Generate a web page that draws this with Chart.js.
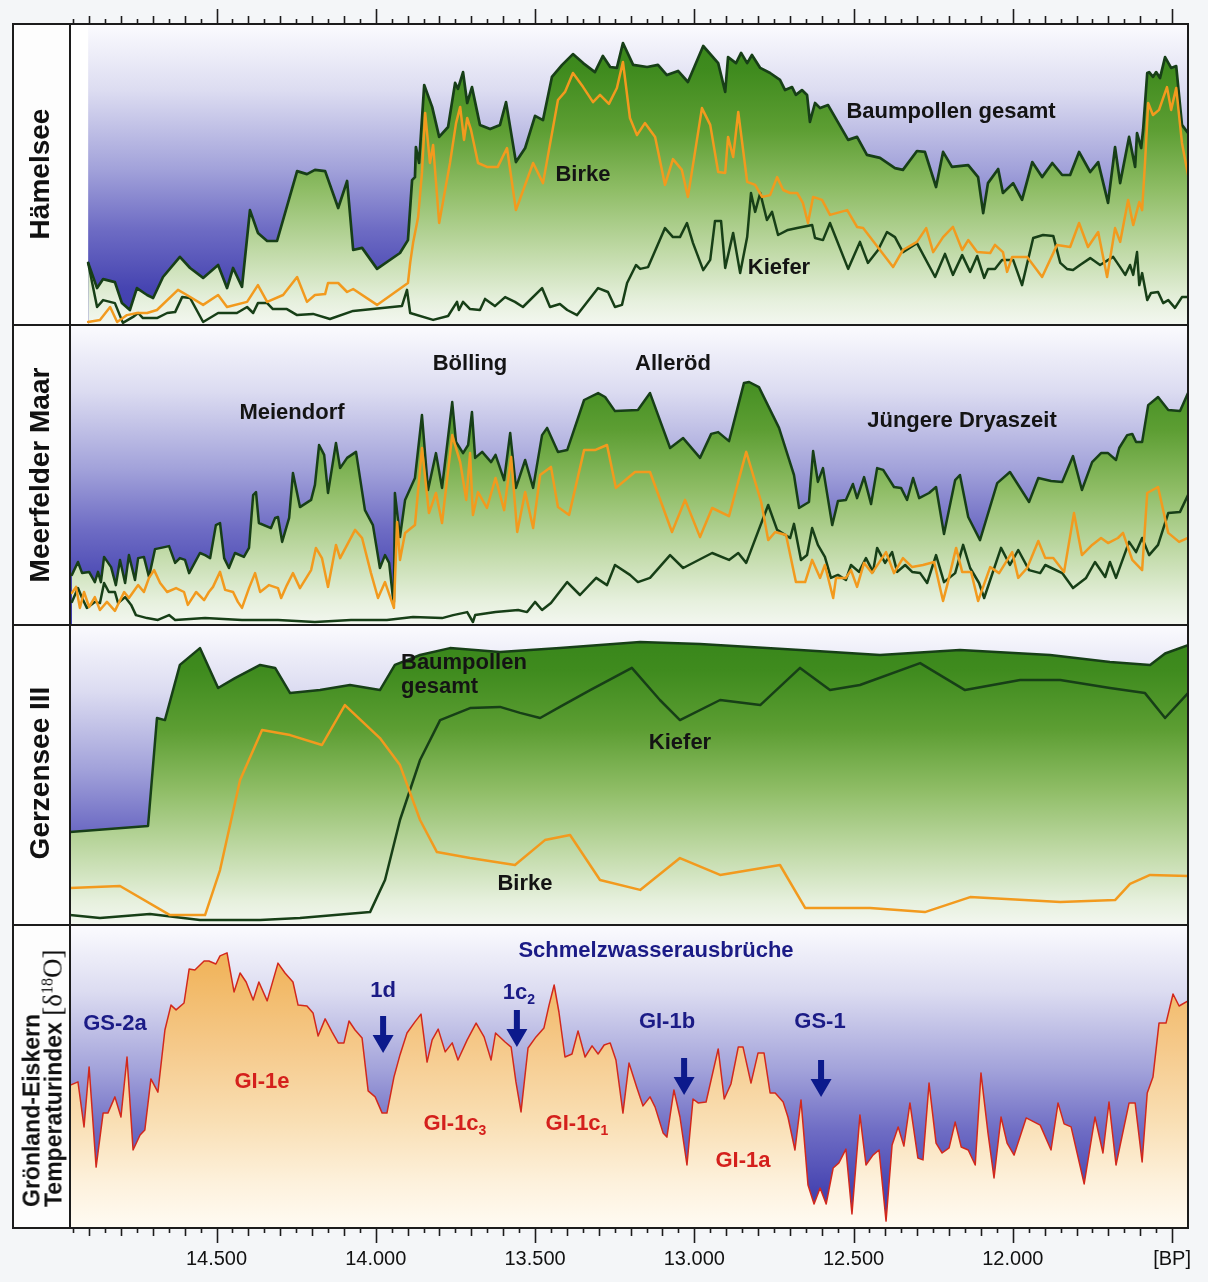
<!DOCTYPE html>
<html><head><meta charset="utf-8">
<script src="https://cdn.jsdelivr.net/npm/chart.js@4.4.1/dist/chart.umd.min.js"></script>
<style>
html,body{margin:0;padding:0;background:#f4f6f8;}
#wrap{position:relative;width:1208px;height:1282px;overflow:hidden;font-family:"Liberation Sans",Arial,Helvetica,sans-serif;}
canvas{position:absolute;left:0;}
.ln{position:absolute;background:#1c1c1c;z-index:5;}
.t{position:absolute;font-weight:bold;white-space:nowrap;transform:translate(-50%,-50%);z-index:6;line-height:1;}
.tl{position:absolute;font-weight:bold;white-space:nowrap;transform:translate(0,-50%);z-index:6;line-height:1;}
.side{position:absolute;font-weight:bold;white-space:nowrap;font-size:28px;color:#111;transform:translate(-50%,-50%) rotate(-90deg);z-index:6;line-height:1;}
.side2{position:absolute;font-weight:bold;white-space:nowrap;font-size:23px;color:#111;width:270px;line-height:21px;text-align:left;transform:translate(-50%,-50%) rotate(-90deg);z-index:6;}
.ser{font-family:"Liberation Serif","Times New Roman",serif;font-weight:normal;font-size:27px;}
.ser sup{font-size:16px;vertical-align:9px;line-height:0;}
.blk{color:#141414;font-size:22px;}
.blu{color:#1b1b86;font-size:22px;}
.red{color:#d4201c;font-size:22px;}
sub{font-size:14px;vertical-align:-5px;line-height:0;}
</style></head>
<body>
<div id="wrap">
  <div style="position:absolute;left:13px;top:24px;width:57px;height:1204px;background:#fdfdfd;"></div>
  <canvas id="c1" width="1208" height="325" style="top:0px"></canvas>
  <canvas id="c2" width="1208" height="300" style="top:325px"></canvas>
  <canvas id="c3" width="1208" height="300" style="top:625px"></canvas>
  <canvas id="c4" width="1208" height="357" style="top:925px"></canvas>

  <div class="ln" style="left:12px;top:23px;width:1177px;height:2px"></div>
  <div class="ln" style="left:12px;top:1227px;width:1177px;height:2px"></div>
  <div class="ln" style="left:12px;top:23px;width:2px;height:1206px"></div>
  <div class="ln" style="left:1187px;top:23px;width:2px;height:1206px"></div>
  <div class="ln" style="left:69px;top:23px;width:2px;height:1206px"></div>
  <div class="ln" style="left:12px;top:324px;width:1177px;height:2px"></div>
  <div class="ln" style="left:12px;top:624px;width:1177px;height:2px"></div>
  <div class="ln" style="left:12px;top:924px;width:1177px;height:2px"></div>

  <div class="side" style="left:40px;top:174px">Hämelsee</div>
  <div class="side" style="left:40px;top:475px">Meerfelder Maar</div>
  <div class="side" style="left:40px;top:773px">Gerzensee III</div>
  <div class="side2" style="left:43px;top:1072px">Grönland-Eiskern<br>Temperaturindex <span class="ser">[δ<sup>18</sup>O]</span></div>

  <div class="t blk" style="left:951px;top:111px">Baumpollen gesamt</div>
  <div class="t blk" style="left:583px;top:174px">Birke</div>
  <div class="t blk" style="left:779px;top:267px">Kiefer</div>

  <div class="t blk" style="left:292px;top:412px">Meiendorf</div>
  <div class="t blk" style="left:470px;top:363px">Bölling</div>
  <div class="t blk" style="left:673px;top:363px">Alleröd</div>
  <div class="t blk" style="left:962px;top:420px">Jüngere Dryaszeit</div>

  <div class="tl blk" style="left:401px;top:662px">Baumpollen</div>
  <div class="tl blk" style="left:401px;top:686px">gesamt</div>
  <div class="t blk" style="left:680px;top:742px">Kiefer</div>
  <div class="t blk" style="left:525px;top:883px">Birke</div>

  <div class="t blu" style="left:656px;top:950px">Schmelzwasserausbrüche</div>
  <div class="t blu" style="left:115px;top:1023px">GS-2a</div>
  <div class="t blu" style="left:383px;top:990px">1d</div>
  <div class="t blu" style="left:519px;top:992px">1c<sub>2</sub></div>
  <div class="t blu" style="left:667px;top:1021px">GI-1b</div>
  <div class="t blu" style="left:820px;top:1021px">GS-1</div>
  <div class="t red" style="left:262px;top:1081px">GI-1e</div>
  <div class="t red" style="left:455px;top:1123px">GI-1c<sub>3</sub></div>
  <div class="t red" style="left:577px;top:1123px">GI-1c<sub>1</sub></div>
  <div class="t red" style="left:743px;top:1160px">GI-1a</div>
</div>
<script>
// ---------- axis ----------
const X_MIN = 11450, X_MAX = 14960;
const majorYears  = [14500, 14000, 13500, 13000, 12500, 12000, 11500];
const majorLabels = ['14.500', '14.000', '13.500', '13.000', '12.500', '12.000', '[BP]'];

// ---------- Hämelsee (year BP, %) ----------
const haemGesamt = [[14903,20.7],[14875,12.3],[14856,15.3],[14819,14.3],[14797,7.3],[14772,5],[14750,12.3],[14718,10],[14699,9],[14668,16],[14615,22.7],[14583,19],[14542,15.7],[14495,20],[14467,12.3],[14448,19],[14420,12.7],[14395,38.3],[14370,30.7],[14341,28],[14310,28],[14247,51.3],[14216,50.3],[14191,51.7],[14159,51.3],[14118,39],[14090,48],[14071,25],[14043,25.7],[13996,18.7],[13924,24],[13899,28.3],[13886,48.3],[13877,49.3],[13874,59.3],[13864,54],[13848,80],[13823,72.7],[13801,62.7],[13773,66],[13751,80.7],[13742,78.7],[13726,84.3],[13713,74],[13698,79.3],[13673,66.7],[13641,65.3],[13610,66.7],[13591,74.3],[13560,54.3],[13531,59],[13500,69.7],[13475,68.3],[13447,82.7],[13415,86.7],[13381,90.3],[13349,87.3],[13312,84.3],[13287,89.7],[13264,86],[13243,85.7],[13224,94],[13192,86.7],[13148,86],[13114,86.7],[13086,83.3],[13051,84.7],[13020,81],[12972,93],[12925,87.3],[12903,77.7],[12894,89.3],[12869,87.3],[12853,90.7],[12834,87.3],[12819,90],[12793,85.7],[12762,84],[12731,81.7],[12715,78.3],[12693,79.3],[12681,76.7],[12662,78.3],[12646,76.7],[12637,67.7],[12621,74],[12605,72.3],[12580,73.3],[12517,61.7],[12489,62.7],[12458,56.7],[12417,55.7],[12370,52.3],[12345,51.7],[12301,58],[12276,57.7],[12241,46],[12219,57.7],[12191,52.7],[12140,53.3],[12109,49.3],[12093,37.3],[12078,47.3],[12046,52],[12031,44],[11999,47.3],[11971,41.7],[11939,54.3],[11908,49.3],[11876,54],[11845,50],[11820,50],[11792,57.7],[11757,51],[11732,54.3],[11701,40.7],[11679,59.3],[11663,47.3],[11635,62.7],[11616,52.7],[11610,64],[11597,59],[11591,65],[11578,84],[11572,84.3],[11560,82.7],[11550,84.3],[11538,82.3],[11522,89.3],[11503,85.7],[11487,86.3],[11469,66.7],[11450,64]];
const haemBirke = [[14903,1],[14866,1.7],[14834,6],[14812,1],[14781,3.3],[14750,4],[14718,4],[14687,5],[14621,11.7],[14593,10],[14542,6.7],[14495,10],[14467,6],[14404,7.7],[14370,13.3],[14341,7.7],[14291,10],[14247,16],[14216,7.7],[14191,10],[14159,10.3],[14150,14],[14118,14],[14090,11],[14071,12],[13996,6.7],[13899,14],[13892,20.7],[13883,27.3],[13867,36],[13855,50.7],[13845,70.7],[13836,60.7],[13830,54],[13820,60],[13801,34],[13767,54],[13748,67.3],[13735,72.7],[13723,61.7],[13713,69],[13701,65],[13679,54],[13651,52.7],[13617,52.7],[13588,59],[13560,38.3],[13506,54],[13475,47.3],[13428,75],[13406,77.7],[13381,84],[13349,79.3],[13318,74.3],[13296,76.7],[13268,73.7],[13243,79],[13224,87.7],[13202,69],[13180,63.3],[13155,67.3],[13123,62.7],[13092,46.7],[13067,55.3],[13039,51.7],[13020,42.7],[12976,72.3],[12950,66.7],[12925,51],[12903,50.7],[12894,62.7],[12878,56],[12862,71],[12834,47.7],[12809,46.7],[12787,42.7],[12762,43.3],[12740,49.3],[12721,45],[12699,44],[12677,44],[12659,40.7],[12643,34],[12627,42.7],[12599,41.7],[12574,36.7],[12520,38.3],[12489,32.7],[12470,32.3],[12417,25],[12376,19.3],[12345,25],[12301,27.7],[12272,32.3],[12250,24.3],[12219,29.3],[12188,32.7],[12159,25],[12140,28.3],[12112,24.3],[12071,24],[12056,26.7],[12031,24.3],[12018,17.7],[12002,22.7],[11955,22.7],[11908,16],[11861,26.7],[11820,26],[11792,34],[11764,26],[11732,31],[11704,16],[11679,32.3],[11663,27.7],[11638,41.7],[11622,33.3],[11603,41],[11594,38.3],[11585,54],[11575,74],[11560,70],[11541,71.7],[11516,79.3],[11503,71.7],[11487,79],[11469,60.7],[11450,50]];
const haemKiefer = [[14903,20.7],[14875,6],[14856,8.3],[14819,7.3],[14794,0.7],[14762,2.7],[14746,4],[14731,2.3],[14687,2.3],[14655,4],[14630,4.3],[14608,9.3],[14583,9],[14542,1],[14495,4],[14436,4],[14404,6],[14385,4],[14370,7.3],[14341,7.3],[14323,5.3],[14279,5.3],[14247,3.3],[14197,3.7],[14144,2],[14071,4.7],[13918,6.3],[13902,11.7],[13892,4],[13820,1.7],[13773,3],[13745,7.7],[13739,5],[13726,7.7],[13704,5.3],[13673,5],[13657,8.7],[13626,6.3],[13594,9.3],[13563,7.7],[13538,6],[13478,12.3],[13453,6],[13422,7],[13399,5],[13368,3.3],[13302,12.3],[13271,11],[13249,6],[13227,6.7],[13211,14],[13183,20],[13170,18.7],[13145,19.3],[13092,32.3],[13067,29.3],[13045,29.3],[13023,34],[13004,27.3],[12972,18.3],[12950,21.7],[12935,34.7],[12916,34.7],[12903,19],[12878,30.7],[12856,17.3],[12834,29.3],[12822,44],[12809,37.7],[12793,44],[12772,35],[12756,37.7],[12737,30],[12706,31.7],[12677,32.3],[12630,33.3],[12621,29],[12596,28.3],[12574,34],[12517,18.7],[12480,27.7],[12455,20.7],[12423,25],[12395,31],[12370,29.3],[12345,24.3],[12301,27.3],[12244,16],[12213,23.7],[12188,16.7],[12159,23.3],[12134,17.7],[12112,23],[12090,15.7],[12078,18.7],[12056,18.7],[12034,21.7],[11999,21.7],[11971,13.3],[11936,29],[11905,30],[11873,29.7],[11851,20.7],[11830,18.7],[11811,18.3],[11789,20],[11757,22.3],[11726,20],[11685,22.7],[11663,19.3],[11647,16.7],[11632,20],[11622,16.7],[11610,24.3],[11603,13.3],[11594,17.3],[11578,8.3],[11566,10.7],[11544,11],[11528,7.3],[11512,8.3],[11491,5.7],[11469,9.3],[11450,9.3]];

// ---------- Meerfelder Maar ----------
const meerGesamt = [[14954,16.7],[14935,21],[14922,17.3],[14900,17.7],[14882,14.3],[14872,17.7],[14863,14.3],[14853,22.7],[14831,19.3],[14816,13.3],[14803,21.7],[14787,14],[14775,23.3],[14756,15],[14746,22.3],[14728,22.7],[14712,16],[14693,25.3],[14649,26.3],[14630,20.7],[14615,22.3],[14599,21.7],[14586,17.3],[14552,24],[14536,23.3],[14520,22.3],[14502,33.3],[14489,34],[14476,22.3],[14461,19],[14442,24],[14414,22.7],[14398,25.7],[14385,43.3],[14376,44.3],[14367,34],[14329,32.3],[14316,35.7],[14307,36],[14294,27.7],[14272,35.7],[14260,50.7],[14238,39.3],[14203,41.7],[14191,46.7],[14178,60],[14162,56.7],[14150,44],[14125,60.7],[14112,52.3],[14090,55.7],[14062,57.7],[14034,38.3],[14009,33.3],[13987,19],[13971,23.3],[13958,20.7],[13946,9],[13943,7.7],[13940,44],[13924,29.3],[13908,41.7],[13877,49],[13855,70],[13836,45],[13811,57.3],[13792,45.7],[13760,74.3],[13748,61],[13726,57.3],[13710,60],[13698,71],[13688,55.7],[13666,57.7],[13638,54.3],[13624,56.7],[13597,48.3],[13578,64],[13560,45.7],[13531,55],[13506,45.7],[13478,63.3],[13462,65.7],[13428,57.7],[13399,58.3],[13346,75],[13302,77.3],[13280,76],[13249,71.3],[13177,71.7],[13139,77.3],[13076,59],[13035,62.3],[12982,55.7],[12947,63.7],[12925,64.3],[12891,61.3],[12844,80.7],[12828,81],[12797,79.3],[12734,65.7],[12687,50],[12671,39],[12640,41],[12627,58],[12612,47.7],[12596,52.3],[12567,33.3],[12549,41.3],[12524,41.7],[12502,47],[12489,42.3],[12467,49.3],[12445,40.3],[12426,52.3],[12407,51.7],[12373,46],[12351,45.7],[12332,41.7],[12313,49],[12294,42.3],[12263,44],[12241,46],[12216,30.3],[12181,48.3],[12166,50],[12140,36],[12103,28.3],[12049,47.3],[12009,51],[11949,41],[11920,49],[11880,48],[11845,47.7],[11811,56.3],[11783,45],[11751,54.3],[11723,57.3],[11701,57.3],[11676,55],[11666,59],[11641,63.3],[11625,63.7],[11613,61],[11594,61],[11575,73.3],[11544,76],[11512,71.7],[11475,71.3],[11450,77.3]];
const meerBirke = [[14954,10.7],[14941,12.7],[14929,5.7],[14916,11],[14900,6],[14882,9.3],[14866,5],[14844,7.7],[14819,4.7],[14790,11],[14775,9],[14746,13.3],[14728,11],[14712,15.7],[14696,18.3],[14677,14],[14655,11],[14627,12.3],[14602,11],[14590,6.7],[14564,11],[14539,8.3],[14524,11],[14511,12.7],[14489,17.7],[14473,11.7],[14448,11],[14433,7.7],[14420,5.7],[14398,12.3],[14379,17.3],[14363,11],[14335,13.3],[14307,12.3],[14297,9],[14279,13.3],[14260,17.3],[14238,12.3],[14203,18.3],[14188,25.7],[14169,22.3],[14150,12.7],[14125,26.7],[14112,22.3],[14065,31.7],[14043,29],[14015,17.3],[13993,9],[13971,14.3],[13943,5.7],[13933,34.3],[13924,21.7],[13908,30.7],[13877,33.3],[13855,59],[13833,37.3],[13811,44],[13792,34],[13760,63.3],[13735,54.3],[13716,41.7],[13704,57.3],[13695,36.7],[13679,44.3],[13651,39],[13624,49],[13597,38.3],[13575,56],[13556,31],[13531,44.3],[13506,32.3],[13484,50],[13450,52.7],[13428,39.3],[13393,36.7],[13346,58.3],[13312,58.3],[13274,60],[13246,45.7],[13186,51],[13139,51],[13070,31],[13029,41.7],[12982,29.3],[12944,39],[12891,36.3],[12837,57.7],[12790,41],[12768,28.3],[12746,31],[12712,30],[12681,14.3],[12652,14.3],[12630,21.7],[12605,15.7],[12590,20],[12564,9],[12555,15.7],[12524,15.7],[12508,18.3],[12489,12.7],[12467,20.7],[12442,17.3],[12398,24.3],[12373,17.3],[12345,22.3],[12316,19.3],[12282,20],[12247,21],[12219,8],[12206,13.3],[12178,25.7],[12159,17.7],[12131,17.7],[12109,8],[12071,19.3],[12043,17.3],[12002,24.3],[11983,15.7],[11955,19],[11920,28],[11898,22.3],[11873,22.3],[11839,17.7],[11808,37.3],[11783,23.3],[11751,26.7],[11723,29],[11701,27.3],[11670,29],[11654,30.7],[11625,21.7],[11594,18.3],[11578,44],[11544,46],[11512,30.7],[11478,27.7],[11450,29]];
const meerKiefer = [[14954,7.7],[14935,12.3],[14922,9],[14907,5.7],[14882,7.7],[14866,7.3],[14853,14],[14838,11],[14819,11],[14809,7.3],[14787,9.3],[14768,6.7],[14753,3.3],[14718,2.3],[14684,1.7],[14649,3.3],[14630,1.7],[14536,2.3],[14420,1.7],[14307,1.7],[14191,1],[14078,1.7],[13965,1.7],[13883,2.7],[13792,2.3],[13757,3.3],[13713,4.3],[13695,1],[13688,3.3],[13624,4.3],[13553,5],[13525,4.3],[13500,7.7],[13478,5],[13450,7.3],[13399,14.3],[13359,10],[13308,15.7],[13274,13.3],[13249,20],[13202,16.7],[13177,14.3],[13139,15.7],[13076,23.3],[13035,19],[12944,24],[12891,21.7],[12862,24],[12837,20.7],[12768,40],[12740,31.7],[12699,29],[12687,33.7],[12665,21.7],[12646,23.3],[12630,32.3],[12612,26.7],[12590,22.7],[12571,15.7],[12549,16.7],[12524,15],[12508,20],[12483,17.7],[12461,22.3],[12439,17.7],[12426,25.7],[12401,20.7],[12379,24.3],[12363,17.7],[12338,20],[12316,17.7],[12291,17.3],[12269,14],[12241,23.3],[12216,14.3],[12181,17.3],[12156,26.7],[12134,19],[12106,14],[12090,9],[12037,25.7],[12009,20],[11983,25],[11949,18.3],[11914,17.3],[11898,20],[11845,17.3],[11811,12.3],[11770,15.7],[11742,21],[11710,16],[11695,21],[11676,15.7],[11635,27.7],[11613,24.3],[11594,29],[11572,23.3],[11544,26.7],[11512,37.3],[11475,37.7],[11450,43.3]];

// ---------- Gerzensee III ----------
const gerzGesamt = [[14960,31],[14715,33],[14687,69],[14662,68.3],[14615,86.7],[14552,92.3],[14495,79],[14442,82.3],[14363,86.7],[14316,85.7],[14269,77.3],[14175,78.3],[14081,80],[13987,78.3],[13940,86.7],[13861,90],[13767,92.3],[13610,91],[13422,92.3],[13170,94.3],[12982,93.7],[12668,91.7],[12417,90],[12166,91.7],[11883,90],[11695,87.7],[11569,86.7],[11522,90.5],[11450,93.3]];
const gerzBirke = [[14960,12.3],[14803,13],[14646,3.3],[14536,3.3],[14489,18.3],[14426,48.3],[14357,65],[14269,63.3],[14169,60],[14097,73.3],[13987,62.3],[13924,53.3],[13861,35],[13808,24.3],[13704,22.3],[13563,20],[13469,28.3],[13390,30],[13296,15],[13170,11.7],[13045,22.3],[12919,16.7],[12731,20],[12652,5.7],[12448,5.7],[12276,4.3],[12134,9.3],[11851,7.7],[11679,8.3],[11632,13.7],[11569,16.7],[11450,16.3]];
const gerzKiefer = [[14960,3.3],[14866,2.3],[14709,3.7],[14552,1.7],[14363,1.7],[14238,2.3],[14018,4.3],[13971,15],[13924,35],[13861,55],[13798,68.3],[13704,72.3],[13610,72.7],[13547,70.7],[13484,69],[13422,72.7],[13327,78.3],[13196,85.7],[13108,75],[13045,68.3],[12919,75],[12793,73.3],[12668,85.7],[12574,78.3],[12480,80],[12291,87.3],[12150,78.3],[11977,81.7],[11851,81.7],[11695,79],[11585,77.3],[11522,69],[11450,77.3]];

// ---------- Grönland-Eiskern Temperaturindex ----------
const groenland = [[14957,47.7],[14944,48.3],[14935,48.7],[14916,33.7],[14900,53.7],[14878,20.3],[14856,38.3],[14841,38.3],[14819,43.7],[14800,37],[14781,57],[14762,26],[14740,31],[14725,32.7],[14706,49.7],[14684,45.3],[14662,66],[14643,74.3],[14627,72.7],[14602,75],[14586,86.3],[14568,86],[14539,89],[14524,89],[14502,88],[14489,90.7],[14467,91.7],[14445,78.7],[14426,85],[14407,82],[14385,76],[14367,82],[14341,75.7],[14307,88.3],[14285,85],[14260,82],[14244,74.3],[14216,74],[14197,71.7],[14181,64],[14159,69.7],[14137,65.3],[14118,61.7],[14100,61.7],[14084,69],[14065,66],[14043,63.3],[14024,45.7],[14002,43.7],[13980,38.3],[13965,38.3],[13943,50.3],[13924,57.7],[13902,65],[13877,68.7],[13858,71.3],[13839,55.3],[13823,62.7],[13804,66.3],[13782,58.7],[13760,61.7],[13742,56],[13713,62.7],[13685,68.3],[13660,63.7],[13638,56],[13624,65],[13594,62],[13575,60.3],[13560,48.7],[13544,38.7],[13522,60],[13497,63.7],[13472,66.7],[13456,74.3],[13440,81],[13425,72],[13406,57],[13384,58],[13365,65.7],[13343,57],[13321,60.7],[13302,58],[13283,61],[13264,61.7],[13246,56],[13224,38.3],[13205,55],[13180,46.7],[13161,40.7],[13139,43.7],[13123,40.3],[13098,31.7],[13086,30.3],[13064,46],[13045,37],[13023,21],[13004,43],[12988,41.7],[12963,42],[12925,59.7],[12906,43],[12885,48],[12862,60.3],[12847,60.3],[12822,48.3],[12800,58.3],[12781,58.3],[12762,45],[12746,45],[12721,42],[12706,37],[12684,26],[12665,42.7],[12643,14.3],[12624,8],[12605,13.3],[12586,8],[12564,20],[12546,21.7],[12524,26.3],[12505,4.7],[12480,37.7],[12461,21],[12439,24.3],[12420,26],[12398,2.3],[12379,27.7],[12360,33.7],[12342,27.3],[12323,41.7],[12298,23.3],[12282,22.7],[12263,48.3],[12241,28.3],[12222,25],[12200,26.7],[12181,35.3],[12162,27],[12140,26],[12118,21],[12100,51.7],[12078,31.7],[12059,16.7],[12037,37],[12018,28.3],[11996,24.3],[11958,36.7],[11914,34.3],[11880,26],[11858,41.7],[11839,34.7],[11817,33.7],[11776,14.7],[11742,37],[11717,25],[11698,42],[11676,21],[11635,41.7],[11616,41.7],[11594,22],[11578,45],[11560,50.3],[11541,68.3],[11519,68.3],[11497,78],[11478,74],[11450,75.7]];

// meltwater pulse arrows (year, value top, value tip)
const arrowYears = [13977, 13557, 13032, 12602];
const arrowTop   = [70.7, 72.7, 56.7, 56];
const arrowTip   = [58.3, 60.3, 44.3, 43.7];

// ---------- styling ----------
const FONT = '"Liberation Sans", Arial, Helvetica, sans-serif';
const bgStops = [[0,'#fbfbfe'],[0.22,'#dcdcf1'],[0.48,'#a2a2da'],[0.68,'#6e6cc4'],[0.88,'#4644b1'],[1,'#3e3cac']];
const greenStops = [[0,'#358419'],[0.15,'#3f8b1e'],[0.35,'#5d9e33'],[0.55,'#8fbd66'],[0.75,'#bfd9a5'],[0.92,'#e6f0dd'],[1,'#f3f7f0']];
const orangeStops = [[0,'#efae4c'],[0.15,'#f1b660'],[0.4,'#f5c98a'],[0.65,'#f9dfb4'],[0.85,'#fdf1dc'],[1,'#fffbf3']];
const DARK = '#173f17', ORANGE = '#f29a1e', RED = '#d2281c';

function vGrad(stops) {
  return (context) => {
    const chart = context.chart, a = chart.chartArea;
    if (!a) return 'rgba(0,0,0,0)';
    const g = chart.ctx.createLinearGradient(0, a.top, 0, a.bottom);
    stops.forEach(([o, c]) => g.addColorStop(o, c));
    return g;
  };
}
const xy = (arr) => arr.map(([x, y]) => ({x, y}));

const tickLen = (v) => (v % 500 === 0 ? 15 : (v % 100 === 0 ? 8 : 5));

const panelPlugin = {
  id: 'panel',
  beforeDraw(chart, args, opts) {
    const {ctx, chartArea: a, scales} = chart;
    const left = opts.startYear ? scales.x.getPixelForValue(opts.startYear) : a.left;
    const g = ctx.createLinearGradient(0, a.top, 0, a.bottom);
    bgStops.forEach(([o, c]) => g.addColorStop(o, c));
    ctx.save();
    ctx.fillStyle = '#ffffff';
    ctx.fillRect(a.left, a.top, a.right - a.left, a.bottom - a.top);
    ctx.fillStyle = g;
    ctx.fillRect(left, a.top, a.right - left, a.bottom - a.top);
    ctx.restore();
  },
  afterDraw(chart, args, opts) {
    const {ctx, chartArea: a, scales} = chart;
    const xs = scales.x, ys = scales.y;
    ctx.save();
    ctx.strokeStyle = '#1c1c1c';
    ctx.lineWidth = 1.6;
    if (opts.topTicks || opts.bottomTicks) {
      for (let v = 11500; v <= 14950; v += 50) {
        const px = Math.round(xs.getPixelForValue(v)) + 0.5;
        const L = tickLen(v);
        ctx.beginPath();
        if (opts.topTicks) { ctx.moveTo(px, a.top - 1); ctx.lineTo(px, a.top - 1 - L); }
        if (opts.bottomTicks) { ctx.moveTo(px, a.bottom); ctx.lineTo(px, a.bottom + L); }
        ctx.stroke();
      }
    }
    if (opts.arrows) {
      ctx.fillStyle = '#0c1a8c';
      arrowYears.forEach((yr, i) => {
        const px = xs.getPixelForValue(yr);
        const y1 = ys.getPixelForValue(arrowTop[i]);
        const y2 = ys.getPixelForValue(arrowTip[i]);
        const head = 18, hw = 10.5, sw = 3;
        ctx.beginPath();
        ctx.moveTo(px - sw, y1); ctx.lineTo(px + sw, y1);
        ctx.lineTo(px + sw, y2 - head); ctx.lineTo(px + hw, y2 - head);
        ctx.lineTo(px, y2); ctx.lineTo(px - hw, y2 - head);
        ctx.lineTo(px - sw, y2 - head); ctx.closePath();
        ctx.fill();
      });
    }
    ctx.restore();
  }
};

function makeChart(id, datasets, yMax, padding, panelOpts, showX) {
  const xScale = {
    type: 'linear', min: X_MIN, max: X_MAX, reverse: true,
    display: !!showX,
    grid: { display: false, drawTicks: true, tickLength: 15 },
    border: { display: false },
    ticks: {
      stepSize: 50, autoSkip: false, maxRotation: 0, minRotation: 0, includeBounds: false, padding: 4,
      color: '#111', font: { family: FONT, size: 20 },
      callback: (v) => { const i = majorYears.indexOf(Math.round(v)); return i >= 0 ? majorLabels[i] : ''; }
    }
  };
  if (showX) xScale.afterFit = (s) => { s.height = 54; };
  return new Chart(document.getElementById(id), {
    type: 'line',
    data: { datasets },
    options: {
      responsive: false, animation: false, devicePixelRatio: 1, events: [],
      layout: { padding },
      plugins: { legend: { display: false }, tooltip: { enabled: false }, filler: { drawTime: 'beforeDatasetsDraw' }, panel: panelOpts },
      elements: { point: { radius: 0 }, line: { tension: 0, borderJoinStyle: 'round', borderCapStyle: 'round' } },
      scales: { x: xScale, y: { min: 0, max: yMax, display: false } }
    },
    plugins: [panelPlugin]
  });
}

const line = (arr, color, w) => ({ data: xy(arr), borderColor: color, borderWidth: w, fill: false });
const area = (arr, color, w, stops) => ({ data: xy(arr), borderColor: color, borderWidth: w, fill: 'origin', backgroundColor: vGrad(stops) });

makeChart('c1', [line(haemBirke, ORANGE, 2.5), line(haemKiefer, DARK, 2.5), area(haemGesamt, DARK, 2.7, greenStops)],
  100, { left: 70, right: 20, top: 25, bottom: 0 }, { startYear: haemGesamt[0][0], topTicks: true });
makeChart('c2', [line(meerBirke, ORANGE, 2.5), line(meerKiefer, DARK, 2.5), area(meerGesamt, DARK, 2.5, greenStops)],
  100, { left: 70, right: 20, top: 0, bottom: 0 }, {});
makeChart('c3', [line(gerzBirke, ORANGE, 2.5), line(gerzKiefer, DARK, 2.5), area(gerzGesamt, DARK, 2.5, greenStops)],
  100, { left: 70, right: 20, top: 0, bottom: 0 }, {});
makeChart('c4', [area(groenland, RED, 1.5, orangeStops)],
  101, { left: 70, right: 20, top: 0, bottom: 0 }, { bottomTicks: true, arrows: true }, true);
</script>
</body></html>
